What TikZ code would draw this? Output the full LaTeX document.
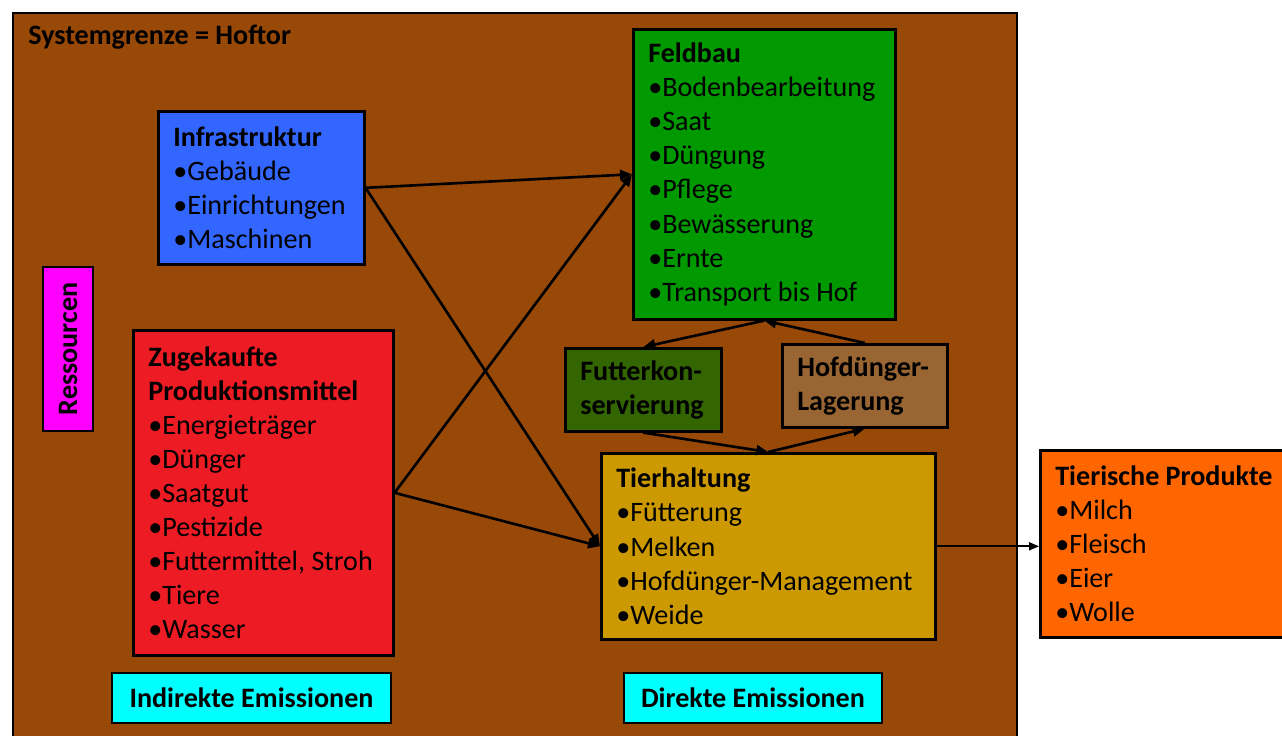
\documentclass[tikz,border=0pt]{standalone}
\usepackage{fontspec}
\setmainfont{Carlito}
\usepackage{xcolor}
\usepackage{tikz}
\usetikzlibrary{arrows.meta, positioning, shapes}
\definecolor{hofbrown}{HTML}{984807}
\definecolor{infrablue}{HTML}{3366FF}
\definecolor{resmagenta}{HTML}{FF00FF}
\definecolor{kaufred}{HTML}{ED1C24}
\definecolor{feldgreen}{HTML}{009900}
\definecolor{futtergreen}{HTML}{336600}
\definecolor{lagerbrown}{HTML}{996633}
\definecolor{tiergold}{HTML}{CC9900}
\definecolor{prodorange}{HTML}{FF6600}
\definecolor{emicyan}{HTML}{00FFFF}

\begin{document}
\begin{tikzpicture}[x=0.02cm, y=-0.02cm,
    box/.style={draw=black, line width=1.5pt, anchor=north west, inner xsep=0.3cm, align=flush left, font=\fontsize{16}{19.4}\selectfont},
    flow/.style={-{Triangle[length=0.24cm, width=0.2cm]}, line width=1.5pt}]
    \useasboundingbox (0,0) rectangle (1282,735);
    % Systemgrenze
    \draw[fill=hofbrown, line width=1.5pt] (13,13) rectangle (1017,745);
    \node[anchor=west, inner sep=0pt, font=\fontsize{16}{19.4}\selectfont\bfseries] (grenze) at (28,37) {Systemgrenze = Hoftor};

    \node[box, fill=infrablue, text width=3.52cm, minimum height=3.06cm] (infra) at (157,110)
        {\textbf{Infrastruktur}\\•Gebäude\\•Einrichtungen\\•Maschinen};
    \node[box, fill=resmagenta, rotate=90, anchor=center, minimum width=3.28cm, minimum height=1cm] (res) at (68,349)
        {\textbf{Ressourcen}};
    \node[box, fill=kaufred, text width=4.6cm, minimum height=6.5cm] (zukauf) at (132,329)
        {\textbf{Zugekaufte}\\\textbf{Produktionsmittel}\\•Energieträger\\•Dünger\\•Saatgut\\•Pestizide\\•Futtermittel, Stroh\\•Tiere\\•Wasser};
    \node[box, fill=feldgreen, text width=4.64cm, minimum height=5.8cm] (feld) at (632,28)
        {\textbf{Feldbau}\\•Bodenbearbeitung\\•Saat\\•Düngung\\•Pflege\\•Bewässerung\\•Ernte\\•Transport bis Hof};
    \node[box, fill=futtergreen, text width=2.52cm, minimum height=1.66cm] (futter) at (564,347)
        {\textbf{Futterkon-}\\\textbf{servierung}};
    \node[box, fill=lagerbrown, text width=2.7cm, minimum height=1.66cm] (hof) at (781,343)
        {\textbf{Hofdünger-}\\\textbf{Lagerung}};
    \node[box, fill=tiergold, text width=6.08cm, minimum height=3.72cm] (tier) at (600,452)
        {\textbf{Tierhaltung}\\•Fütterung\\•Melken\\•Hofdünger-Management\\•Weide};
    \node[box, fill=prodorange, text width=4.8cm, minimum height=3.74cm] (prod) at (1039,449)
        {\textbf{Tierische Produkte}\\•Milch\\•Fleisch\\•Eier\\•Wolle};

    % Emissionen
    \foreach \x/\w/\name/\label in {251.5/5.58/indirekt/Indirekte Emissionen, 753/5.16/direkt/Direkte Emissionen} {
        \node[box, fill=emicyan, anchor=center, align=center, minimum width=\w cm, minimum height=1cm] (\name) at (\x,698) {\textbf{\label}};
    }

    \draw[flow] (infra.east) -- (feld.west);
    \draw[flow] (infra.east) -- (tier.west);
    \draw[flow] (zukauf.east) -- (feld.west);
    \draw[flow] (zukauf.east) -- (tier.west);
    \draw[flow] (feld.south) -- (futter.north);
    \draw[flow] (hof.north) -- (feld.south);
    \draw[flow] (futter.south) -- (tier.north);
    \draw[flow] (tier.north) -- (hof.south);
    \draw[-{Triangle[length=0.2cm, width=0.16cm]}, line width=1pt] (tier.east) -- (tier.east -| prod.west);
\end{tikzpicture}
\end{document}
